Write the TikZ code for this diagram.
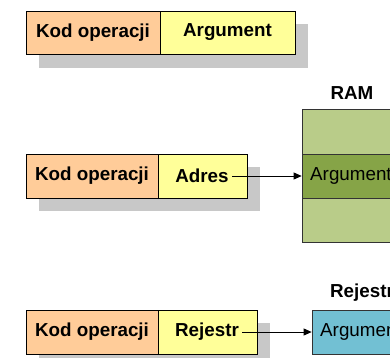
\documentclass[tikz,border=0pt]{standalone}
\usepackage{fontspec}
\setmainfont{Liberation Sans}
\usetikzlibrary{arrows.meta}
\definecolor{opc}{HTML}{FFCC99}
\definecolor{argc}{HTML}{FFFF99}
\definecolor{ramc}{HTML}{B9CC89}
\definecolor{bandc}{HTML}{86A447}
\definecolor{regc}{HTML}{72C0D3}
\definecolor{shadc}{HTML}{C8C8C8}
\begin{document}
\begin{tikzpicture}[x=1pt,y=-1pt,
  fld/.style={draw=black, line width=0.8pt, minimum height=44pt, inner sep=0pt,
    font=\fontsize{18.8}{20}\selectfont\bfseries},
  opbox/.style={fld, fill=opc, minimum width=134pt},
  argbox/.style={fld, fill=argc},
  shad/.style={fill=shadc},
  mem/.style={draw=black!80, line width=0.7pt, inner sep=0pt},
  lbl/.style={font=\fontsize{18.8}{20}\selectfont\bfseries, inner sep=0pt},
  txt/.style={font=\fontsize{18.8}{20}\selectfont},
  bftxt/.style={font=\fontsize{18.8}{20}\selectfont\bfseries},
  arr/.style={-{Triangle[length=8pt,width=7pt]}, line width=0.8pt}]
\useasboundingbox (0,0) rectangle (390,357);
\fill[white] (0,0) rectangle (390,357);
% Row 1
\fill[shad] (39,24) rectangle (308,68);
\node[opbox, minimum width=134pt, minimum height=43pt] (kod1) at (93,32.5) {Kod operacji};
\node[argbox, minimum width=135pt, minimum height=43pt] (arg1) at (227.5,32.5) {Argument};
% Row 2
\fill[shad] (39,167) rectangle (260,211);
\node[opbox, minimum width=132pt] (kod2) at (92,176) {Kod operacji};
\node[argbox, minimum width=89pt] (adr) at (202.5,176) {};
\node[bftxt] (adrtxt) at (202,176) {Adres};
\node[mem, fill=ramc, minimum width=118pt, minimum height=133pt] (ram) at (361,175.5) {};
\node[mem, fill=bandc, minimum width=118pt, minimum height=44pt] (band) at (361,176) {};
\node[txt, anchor=west, inner sep=0pt] (bandtxt) at (310,176) {Argument};
\node[lbl] (ramlbl) at (352,93) {RAM};
\draw[arr] (adrtxt.east) -- (band.west);
% Row 3
\fill[shad] (39,323) rectangle (270,367);
\node[opbox, minimum width=132pt] (kod3) at (92,332) {Kod operacji};
\node[argbox, minimum width=99pt] (rej) at (207.5,332) {};
\node[bftxt] (rejtxt) at (207,332) {Rejestr};
\node[mem, fill=regc, minimum width=108pt, minimum height=44pt] (reg) at (366,332) {};
\node[txt, anchor=west, inner sep=0pt] (regtxt) at (320,332) {Argument};
\node[lbl] (reglbl) at (362,293) {Rejestr};
\draw[arr] (rejtxt.east) -- (reg.west);
\end{tikzpicture}
\end{document}
